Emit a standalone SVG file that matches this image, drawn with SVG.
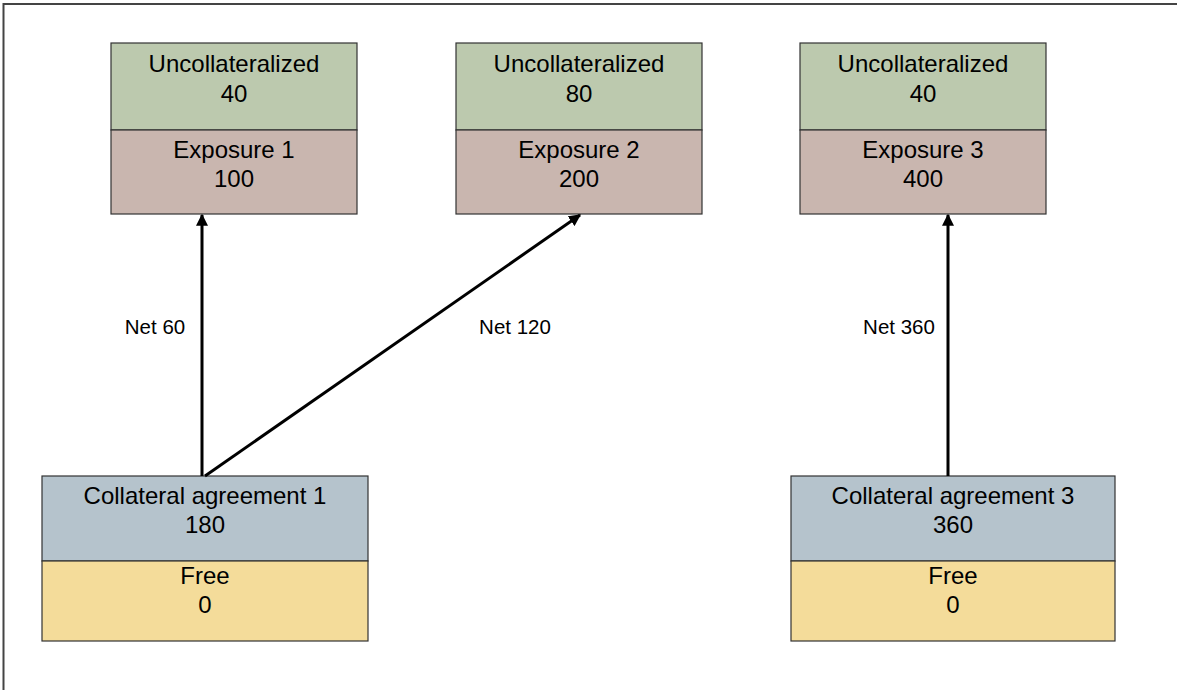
<svg xmlns="http://www.w3.org/2000/svg" width="1177" height="690" viewBox="0 0 1177 690">
<defs>
<style>
.t{font-family:"Liberation Sans",Arial,sans-serif;font-size:24px;fill:#000;text-anchor:middle}
.l{font-family:"Liberation Sans",Arial,sans-serif;font-size:20.5px;fill:#000;text-anchor:middle}
.b{stroke:#333;stroke-width:1.2}
.g{fill:#BCC9AE}.m{fill:#C9B6AF}.c{fill:#B5C3CC}.y{fill:#F4DC9A}
.a{stroke:#000;stroke-width:3;fill:none;marker-end:url(#ah)}
</style>
<marker id="ah" viewBox="0 0 10 10" refX="9" refY="5" markerWidth="4" markerHeight="4" orient="auto" markerUnits="strokeWidth">
<path d="M0,0L10,5L0,10z" fill="#000"/>
</marker>
</defs>
<rect width="1177" height="690" fill="#fff"/>
<path d="M3.5,690V4H1177" fill="none" stroke="#444" stroke-width="2"/>
<g id="exp1">
<rect class="b g" x="111" y="43" width="246" height="87"/>
<rect class="b m" x="111" y="130" width="246" height="84"/>
<text class="t" x="234" y="72">Uncollateralized</text>
<text class="t" x="234" y="102">40</text>
<text class="t" x="234" y="158">Exposure 1</text>
<text class="t" x="234" y="187">100</text>
</g>
<g id="exp2">
<rect class="b g" x="456" y="43" width="246" height="87"/>
<rect class="b m" x="456" y="130" width="246" height="84"/>
<text class="t" x="579" y="72">Uncollateralized</text>
<text class="t" x="579" y="102">80</text>
<text class="t" x="579" y="158">Exposure 2</text>
<text class="t" x="579" y="187">200</text>
</g>
<g id="exp3">
<rect class="b g" x="800" y="43" width="246" height="87"/>
<rect class="b m" x="800" y="130" width="246" height="84"/>
<text class="t" x="923" y="72">Uncollateralized</text>
<text class="t" x="923" y="102">40</text>
<text class="t" x="923" y="158">Exposure 3</text>
<text class="t" x="923" y="187">400</text>
</g>
<g id="coll1">
<rect class="b c" x="42" y="476" width="326" height="85"/>
<rect class="b y" x="42" y="561" width="326" height="80"/>
<text class="t" x="205" y="504">Collateral agreement 1</text>
<text class="t" x="205" y="533">180</text>
<text class="t" x="205" y="584">Free</text>
<text class="t" x="205" y="613">0</text>
</g>
<g id="coll3">
<rect class="b c" x="791" y="476" width="324" height="85"/>
<rect class="b y" x="791" y="561" width="324" height="80"/>
<text class="t" x="953" y="504">Collateral agreement 3</text>
<text class="t" x="953" y="533">360</text>
<text class="t" x="953" y="584">Free</text>
<text class="t" x="953" y="613">0</text>
</g>
<g id="connectors">
<line class="a" x1="202" y1="476" x2="202" y2="215"/>
<line class="a" x1="205" y1="476" x2="580" y2="215"/>
<line class="a" x1="948" y1="476" x2="948" y2="215"/>
<text class="l" x="155" y="334">Net 60</text>
<text class="l" x="515" y="334">Net 120</text>
<text class="l" x="899" y="334">Net 360</text>
</g>
</svg>
